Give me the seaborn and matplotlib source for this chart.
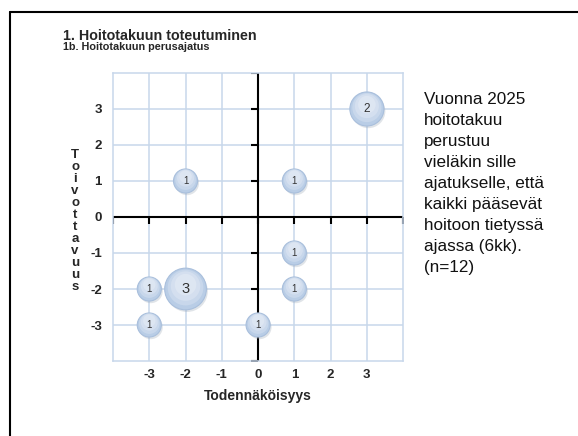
import matplotlib
matplotlib.use("Agg")
import matplotlib.pyplot as plt
from matplotlib.lines import Line2D
import pandas as pd
import seaborn as sns

# Data: (todennäköisyys, toivottavuus, count)
x_vals = [3, -2, 1, 1, -3, -2, 1, -3, 0]
y_vals = [3, 1, 1, -1, -2, -2, -2, -3, -3]
counts = [2, 1, 1, 1, 1, 3, 1, 1, 1]
tick_vals = [-3, -2, -1, 0, 1, 2, 3]
frame_vals = [-4, -3, -2, -1, 0, 1, 2, 3, 4]

df = pd.DataFrame({"x": x_vals, "y": y_vals, "n": counts})

sns.set_style("white")
plt.rcParams["font.family"] = ["Liberation Sans", "DejaVu Sans"]
plt.rcParams["axes.unicode_minus"] = False

fig = plt.figure(figsize=(5.78, 4.36), dpi=100)
ax = fig.add_axes([0.1955, 0.172, 0.502, 0.6606])

grid_col = "#c7d7eb"
ax.set_xlim(-4, 4)
ax.set_ylim(-4, 4)
ax.set_xticks(tick_vals)
ax.set_yticks(tick_vals)
ax.grid(True, color=grid_col, lw=1.1)
ax.set_axisbelow(True)
for s in ax.spines.values():
    s.set_color(grid_col)
    s.set_linewidth(1.1)
ax.tick_params(axis="x", length=0, labelsize=9.5, pad=6)
ax.tick_params(axis="y", length=0, labelsize=9.5, pad=8)
for lab in ax.get_xticklabels() + ax.get_yticklabels():
    lab.set_fontweight("bold")

# central axes with tick marks
ax.axhline(0, color="black", lw=1.5, zorder=2)
ax.axvline(0, color="black", lw=1.5, zorder=2)
ax.plot(frame_vals, [0] * len(frame_vals), ls="none", marker=3, ms=5, mew=1.5,
        color="black", zorder=2)
ax.plot([0] * len(frame_vals), frame_vals, ls="none", marker=0, ms=5, mew=1.5,
        color="black", zorder=2)

# shadow, bubble, soft highlight
sns.scatterplot(data=df, x=[v + 0.04 for v in x_vals], y=[v - 0.06 for v in y_vals],
                size="n", sizes=(300, 900), size_norm=(1, 3), color="#9aa6b5",
                alpha=0.3, linewidth=0, legend=False, ax=ax, zorder=3)
sns.scatterplot(data=df, x="x", y="y", size="n", sizes=(300, 900), size_norm=(1, 3),
                color="#b9cde6", edgecolor="#a9bfdc", linewidth=0.8, legend=False,
                ax=ax, zorder=4)
for k, (lo, hi) in enumerate([(220, 660), (150, 450), (80, 240)]):
    sns.scatterplot(data=df, x="x", y=[v + 0.04 * (k + 1) for v in y_vals], size="n",
                    sizes=(lo, hi), size_norm=(1, 3), color="white", alpha=0.22,
                    linewidth=0, legend=False, ax=ax, zorder=5)

for xv, yv, n in zip(x_vals, y_vals, counts):
    ax.text(xv, yv, str(n), ha="center", va="center", color="#333333",
            fontsize={1: 7, 2: 8.5, 3: 10.5}[n], zorder=6)

ax.set_xlabel("")
ax.set_ylabel("")

fig.text(258 / 578, 1 - 396 / 436, "Todennäköisyys", ha="center", va="center",
         fontsize=10, fontweight="bold")
fig.text(75 / 578, 1 - 221 / 436, "\n".join("Toivottavuus"), ha="center",
         va="center", fontsize=9.5, fontweight="bold", linespacing=1.0)

fig.text(63 / 578, 1 - 36 / 436, "1. Hoitotakuun toteutuminen", ha="left",
         va="center", fontsize=10.3, fontweight="bold")
fig.text(63 / 578, 1 - 47.5 / 436, "1b. Hoitotakuun perusajatus", ha="left",
         va="center", fontsize=7.8, fontweight="bold")

note = ("Vuonna 2025\nhoitotakuu\nperustuu\nvieläkin sille\najatukselle, että\n"
        "kaikki pääsevät\nhoitoon tietyssä\najassa (6kk).\n(n=12)")
fig.text(424 / 578, 1 - 92 / 436, note, ha="left", va="top", fontsize=12.3,
         linespacing=1.5, color="#111111")

# slide frame
fig.add_artist(Line2D([10 / 578, 1], [1 - 12 / 436, 1 - 12 / 436],
                      transform=fig.transFigure, color="black", lw=1.5))
fig.add_artist(Line2D([10 / 578, 10 / 578], [0, 1 - 12 / 436],
                      transform=fig.transFigure, color="black", lw=1.5))

fig.savefig("out.png", dpi=100)
